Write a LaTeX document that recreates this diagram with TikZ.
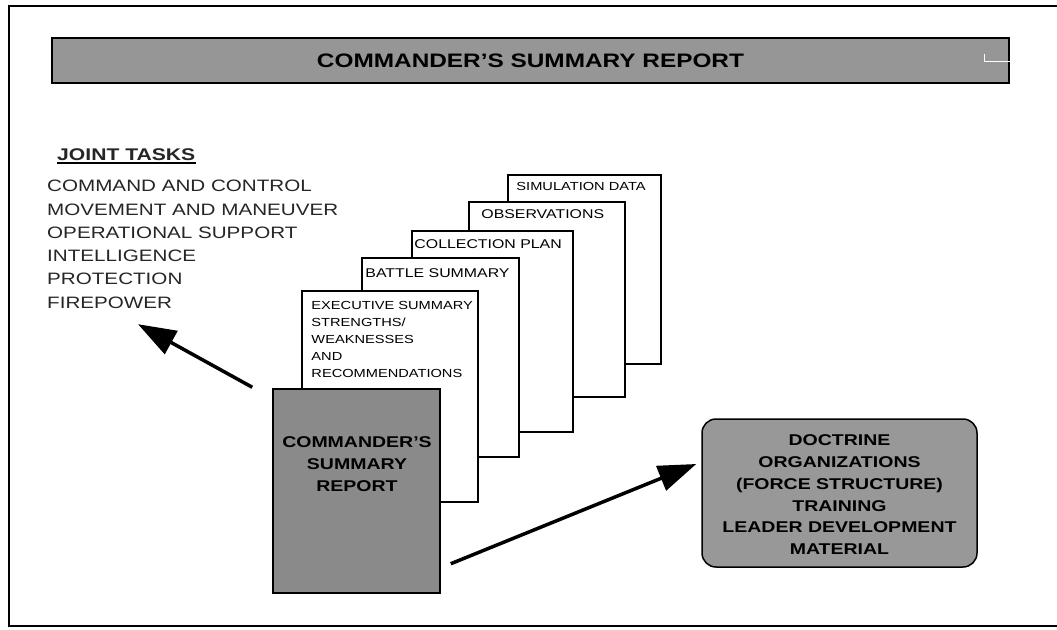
\documentclass[tikz,border=0pt]{standalone}
\usepackage{fontspec}
\setmainfont{Liberation Sans}[FakeStretch=1.25]
\usetikzlibrary{arrows.meta,calc}

\definecolor{bargray}{RGB}{150,150,150}
\definecolor{csrgray}{RGB}{138,138,138}
\definecolor{docgray}{RGB}{152,152,152}

\tikzset{
  page/.style={draw, line width=1.5pt, fill=white, inner sep=0pt},
  pagetext/.style={anchor=base west, inner sep=0pt, font=\fontsize{12.7}{14}\selectfont},
  smallpagetext/.style={pagetext, font=\fontsize{11.7}{14}\selectfont},
  tasktext/.style={anchor=base west, inner sep=0pt, font=\fontsize{16.5}{20}\selectfont, text=black!85},
  boldtext/.style={anchor=base, inner sep=0pt, font=\fontsize{15.6}{18}\selectfont\bfseries},
  bigarrow/.style={line width=3.5pt, -{Triangle[length=38pt,width=26pt]}}
}

\begin{document}
\begin{tikzpicture}[x=1pt,y=-1pt]
  \useasboundingbox (0,0) rectangle (1057,629);
  \fill[white] (0,0) rectangle (1057,629);
  \draw[line width=1.5pt] (1057,6) -- (9,6) -- (9,626) -- (1057,626);

  \node[draw, line width=1.5pt, fill=bargray, minimum width=957pt, minimum height=45pt,
        font=\fontsize{19.5}{22}\selectfont\bfseries] (title) at (530.5,60.5) {COMMANDER'S SUMMARY REPORT};
  \draw[white, line width=1pt] (984,54) -- (984,61) -- (1010,61);

  \node[tasktext, font=\fontsize{16.9}{20}\selectfont\bfseries] (jt) at (57,160) {JOINT TASKS};
  \draw[line width=1.5pt] ([yshift=-3pt]jt.base west) -- ([yshift=-3pt]jt.base east);
  \foreach \t [count=\i from 0] in {COMMAND AND CONTROL, MOVEMENT AND MANEUVER, OPERATIONAL SUPPORT, INTELLIGENCE, PROTECTION, FIREPOWER}
    \node[tasktext] (task\i) at (47,191.7+23.3*\i) {\t};

  \node[page, minimum width=153pt, minimum height=189pt] (sim) at (584.5,269.5) {};
  \node[smallpagetext] (simlbl) at ($(sim.north west)+(9,16)$) {SIMULATION DATA};
  \node[page, minimum width=156pt, minimum height=195pt] (obs) at (547,299.5) {};
  \node[pagetext] (obslbl) at ($(obs.north west)+(13,17)$) {OBSERVATIONS};
  \node[page, minimum width=161pt, minimum height=201pt] (coll) at (492.5,331.5) {};
  \node[pagetext] (colllbl) at ($(coll.north west)+(3,18)$) {COLLECTION PLAN};
  \node[page, minimum width=157pt, minimum height=199pt] (batt) at (440.5,357.5) {};
  \node[pagetext] (battlbl) at ($(batt.north west)+(4,20)$) {BATTLE SUMMARY};
  \node[page, minimum width=176pt, minimum height=211pt] (exec) at (390,396.5) {};
  \foreach \t [count=\i from 0] in {EXECUTIVE SUMMARY, STRENGTHS/, WEAKNESSES, AND, RECOMMENDATIONS}
    \node[smallpagetext] (exec\i) at ($(exec.north west)+(10,19+17*\i)$) {\t};

  \node[draw, line width=1.5pt, fill=csrgray, minimum width=167pt, minimum height=204pt] (csr) at (356.5,491) {};
  \foreach \t [count=\i from 0] in {COMMANDER'S, SUMMARY, REPORT}
    \node[boldtext] (csr\i) at ($(csr.north)+(0.5,59+22*\i)$) {\t};

  \node[draw, line width=1.5pt, fill=docgray, rounded corners=14pt, minimum width=275pt, minimum height=148pt] (doc) at (839.5,493) {};
  \foreach \t [count=\i from 0] in {DOCTRINE, ORGANIZATIONS, (FORCE STRUCTURE), TRAINING, LEADER DEVELOPMENT, MATERIAL}
    \node[boldtext] (doc\i) at ($(doc.north)+(0,27.7+21.7*\i)$) {\t};

  \coordinate (jtail) at ($(csr.north west)+(-20,-1)$);
  \coordinate (jtip) at ($(task5.base west)+(91,16)$);
  \draw[bigarrow] (jtail) -- (jtip);
  \coordinate (dtail) at ($(csr.south east)+(10,-30)$);
  \coordinate (dtip) at ($(doc.west)+(-5,-29)$);
  \draw[bigarrow] (dtail) -- (dtip);
\end{tikzpicture}
\end{document}
